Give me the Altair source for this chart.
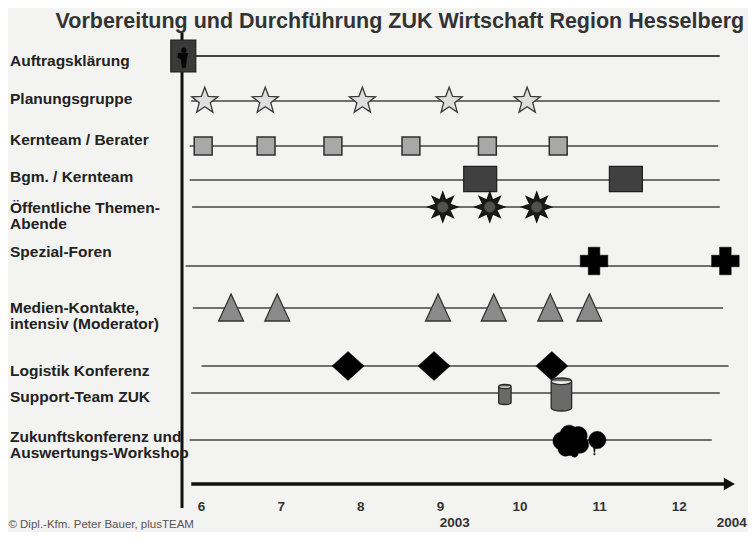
import math
import altair as alt
import pandas as pd

# ---------------- data ----------------
title_text = "Vorbereitung und Durchführung ZUK Wirtschaft Region Hesselberg"
footer_text = "© Dipl.-Kfm. Peter Bauer, plusTEAM"

row_labels = [
    "Auftragsklärung",
    "Planungsgruppe",
    "Kernteam / Berater",
    "Bgm. / Kernteam",
    "Öffentliche Themen-\nAbende",
    "Spezial-Foren",
    "Medien-Kontakte,\nintensiv (Moderator)",
    "Logistik Konferenz",
    "Support-Team ZUK",
    "Zukunftskonferenz und\nAuswertungs-Workshop",
]
row_lane = [0.96, 1.86, 2.76, 3.44, 3.98, 5.16, 6.0, 7.16, 7.7, 8.64]
label_lane = [1.16, 1.92, 2.74, 3.48, 4.1, 4.98, 6.1, 7.36, 7.88, 8.68]
line_start = [5.85, 5.87, 5.85, 5.85, 5.88, 5.80, 5.89, 6.00, 5.87, 5.85]
line_end = [12.51, 12.51, 12.49, 12.51, 12.51, 12.51, 12.55, 12.62, 12.51, 12.41]

auftrag_m = [5.77]
planung_m = [6.04, 6.80, 8.02, 9.11, 10.09]
kernteam_m = [6.02, 6.81, 7.65, 8.63, 9.59, 10.48]
bgm_m = [9.50, 11.33]
themen_m = [9.03, 9.62, 10.21]
foren_m = [10.93, 12.58]
medien_m = [6.37, 6.95, 8.97, 9.67, 10.38, 10.87]
logistik_m = [7.84, 8.92, 10.40]
support_m = [9.81, 10.52]
support_size = [400, 1089]
zukunft_m = [10.64]
zukunft_extra_m = [10.97]

tick_months = [6, 7, 8, 9, 10, 11, 12]
year_labels = ["2003", "2004"]
year_m = [9.18, 12.85]

axis_x = 5.754
axis_top, axis_bottom = 0.5, 10.0
arrow_lane = 9.52
arrow_start, arrow_end = 5.87, 12.6

# ---------------- scales ----------------
M0, M1 = 3.568, 12.864
XS = alt.Scale(domain=[M0, M1], nice=False, zero=False)
YS = alt.Scale(domain=[0, 10.48], nice=False, zero=False, reverse=True)
FONT = "Liberation Sans"


def X(f="m"):
    return alt.X(f"{f}:Q", scale=XS, axis=None)


def Y(f="lane"):
    return alt.Y(f"{f}:Q", scale=YS, axis=None)


def star_path(n, r_out, r_in):
    pts = []
    for i in range(2 * n):
        r = r_out if i % 2 == 0 else r_in
        a = math.radians(-90 + i * 180 / n)
        pts.append((r * math.cos(a), r * math.sin(a)))
    return "M" + "L".join(f"{x:.3f},{y:.3f}" for x, y in pts) + "Z"


def circle_sub(cx, cy, r):
    return (f"M{cx - r:.3f},{cy:.3f}A{r},{r} 0 1 0 {cx + r:.3f},{cy:.3f}"
            f"A{r},{r} 0 1 0 {cx - r:.3f},{cy:.3f}Z")


STAR = star_path(5, 1.0, 0.42)
BURST = star_path(8, 1.0, 0.5)
RECT_TALL = "M-0.78,-1L0.78,-1L0.78,1L-0.78,1Z"
PERSON = (circle_sub(0.05, -0.6, 0.22)
          + "M-0.45,-0.35L0.4,-0.35L0.3,0.2L0.2,0.95L-0.1,0.95L-0.2,0.2L-0.5,0.05Z")
RECT_WIDE = "M-1,-0.76L1,-0.76L1,0.76L-1,0.76Z"
TRI = "M0,-1L0.92,1L-0.92,1Z"
DIAM = "M0,-0.9L1,0L0,0.9L-1,0Z"
PLUS = ("M-0.42,-1L0.42,-1L0.42,-0.42L1,-0.42L1,0.42L0.42,0.42L0.42,1L-0.42,1"
        "L-0.42,0.42L-1,0.42L-1,-0.42L-0.42,-0.42Z")
CYL = ("M-0.62,-0.8A0.62,0.2 0 0 1 0.62,-0.8L0.62,0.8A0.62,0.2 0 0 1 -0.62,0.8Z"
       "M-0.62,-0.8A0.62,0.2 0 0 0 0.62,-0.8")
CLOUD = "".join(circle_sub(*c) for c in [
    (-0.5, 0.0, 0.5), (-0.1, -0.38, 0.5), (0.4, -0.3, 0.5),
    (0.5, 0.2, 0.48), (0.0, 0.2, 0.6), (-0.3, 0.42, 0.42), (0.2, 0.7, 0.2)])
BANG = "M-0.25,-1L0.25,-1L0.12,0.35L-0.12,0.35ZM-0.18,0.6L0.18,0.6L0.18,1L-0.18,1Z"


def pts(months, lane):
    return pd.DataFrame({"m": months, "lane": [lane] * len(months)})


layers = []

# row lines
rows_df = pd.DataFrame({"label": row_labels, "lane": row_lane, "m": line_start,
                        "m2": line_end, "w": [2.2] + [1.6] * 9})
layers.append(alt.Chart(rows_df).mark_rule(color="#444").encode(
    x=X(), x2="m2:Q", y=Y(), strokeWidth=alt.StrokeWidth("w:Q", scale=None)))

# vertical axis line
layers.append(alt.Chart(pd.DataFrame({"m": [axis_x], "lane": [axis_top], "lane2": [axis_bottom]}))
              .mark_rule(color="#111", strokeWidth=3).encode(x=X(), y=Y(), y2="lane2:Q"))
# time arrow
layers.append(alt.Chart(pd.DataFrame({"m": [arrow_start], "m2": [arrow_end], "lane": [arrow_lane]}))
              .mark_rule(color="#111", strokeWidth=3.5).encode(x=X(), x2="m2:Q", y=Y()))
layers.append(alt.Chart(pts([arrow_end + 0.03], arrow_lane)).mark_point(
    shape="triangle-right", filled=True, color="#111", size=160, opacity=1).encode(x=X(), y=Y()))


def sym(df, shape, size, fill, stroke, sw=1.2):
    return alt.Chart(df).mark_point(shape=shape, size=size, filled=True, fill=fill,
                                    stroke=stroke, strokeWidth=sw, opacity=1,
                                    fillOpacity=1).encode(x=X(), y=Y())


layers.append(sym(pts(auftrag_m, 0.96), RECT_TALL, 1024, "#3a3a3a", "#1e1e1e"))
layers.append(sym(pts(auftrag_m, 0.98), PERSON, 500, "#050505", "#050505", 0.5))
layers.append(sym(pts(planung_m, 1.86), STAR, 760, "#dedede", "#3a3a3a", 1.3))
layers.append(sym(pts(kernteam_m, 2.76), "square", 320, "#a8a8a8", "#2e2e2e", 1.5))
layers.append(sym(pts(bgm_m, 3.42), RECT_WIDE, 1089, "#404040", "#1e1e1e"))
layers.append(sym(pts(themen_m, 3.98), BURST, 900, "#1a1a1a", "#111"))
layers.append(sym(pts(themen_m, 3.98), "circle", 110, "#505050", "#505050", 0.5))
layers.append(sym(pts(foren_m, 5.06), PLUS, 760, "#000", "#000", 0.5))
layers.append(sym(pts(medien_m, 5.99), TRI, 730, "#8a8a8a", "#333", 1.3))
layers.append(sym(pts(logistik_m, 7.16), DIAM, 1024, "#000", "#000", 0.5))
sup_df = pd.DataFrame({"m": support_m, "lane": [7.73] * 2, "s": support_size})
layers.append(alt.Chart(sup_df).mark_point(shape=CYL, filled=True, fill="#6a6a6a",
                                          stroke="#2a2a2a", strokeWidth=1.3, opacity=1)
              .encode(x=X(), y=Y(), size=alt.Size("s:Q", scale=None)))
layers.append(sym(pts(zukunft_m, 8.66), CLOUD, 1300, "#000", "#000", 0.5))
layers.append(sym(pts(zukunft_extra_m, 8.64), "circle", 300, "#000", "#000", 0.5))
layers.append(sym(pts([10.935], 8.86), BANG, 64, "#000", "#000", 0.3))

# row labels
lab_df = pd.DataFrame({"label": row_labels, "lane": label_lane, "m": [3.593] * len(row_labels)})
layers.append(alt.Chart(lab_df).mark_text(
    align="left", baseline="alphabetic", font=FONT, fontSize=15.5, fontWeight="bold",
    color="#222", lineBreak="\n", lineHeight=16).encode(x=X(), y=Y(), text="label:N"))

# tick labels
tick_df = pd.DataFrame({"m": tick_months, "lane": [10.06] * 7, "t": [str(t) for t in tick_months]})
layers.append(alt.Chart(tick_df).mark_text(
    align="center", baseline="alphabetic", font=FONT, fontSize=13.5, fontWeight="bold",
    color="#333").encode(x=X(), y=Y(), text="t:N"))
year_df = pd.DataFrame({"m": year_m, "lane": [10.38, 10.38], "t": year_labels})
layers.append(alt.Chart(year_df.iloc[:1]).mark_text(
    align="center", baseline="alphabetic", font=FONT, fontSize=13.5, fontWeight="bold",
    color="#333").encode(x=X(), y=Y(), text="t:N"))
layers.append(alt.Chart(year_df.iloc[1:]).mark_text(
    align="right", baseline="alphabetic", font=FONT, fontSize=13.5, fontWeight="bold",
    color="#333").encode(x=X(), y=Y(), text="t:N"))

# title & footer
layers.append(alt.Chart(pd.DataFrame({"m": [8.49], "lane": [0.4], "t": [title_text]})).mark_text(
    align="center", baseline="alphabetic", font=FONT, fontSize=21.5, fontWeight="bold",
    color="#333").encode(x=X(), y=Y(), text="t:N"))
layers.append(alt.Chart(pd.DataFrame({"m": [M0 + 0.005], "lane": [10.4], "t": [footer_text]})).mark_text(
    align="left", baseline="alphabetic", font=FONT, fontSize=11.5,
    color="#555").encode(x=X(), y=Y(), text="t:N"))

chart = alt.layer(*layers).properties(
    width=740, height=524, padding=0,
    autosize=alt.AutoSizeParams(type="none"),
    background="#f3f3f1",
).configure_view(stroke=None)

chart.save("out.html", embed_options={"renderer": "svg", "actions": False})
